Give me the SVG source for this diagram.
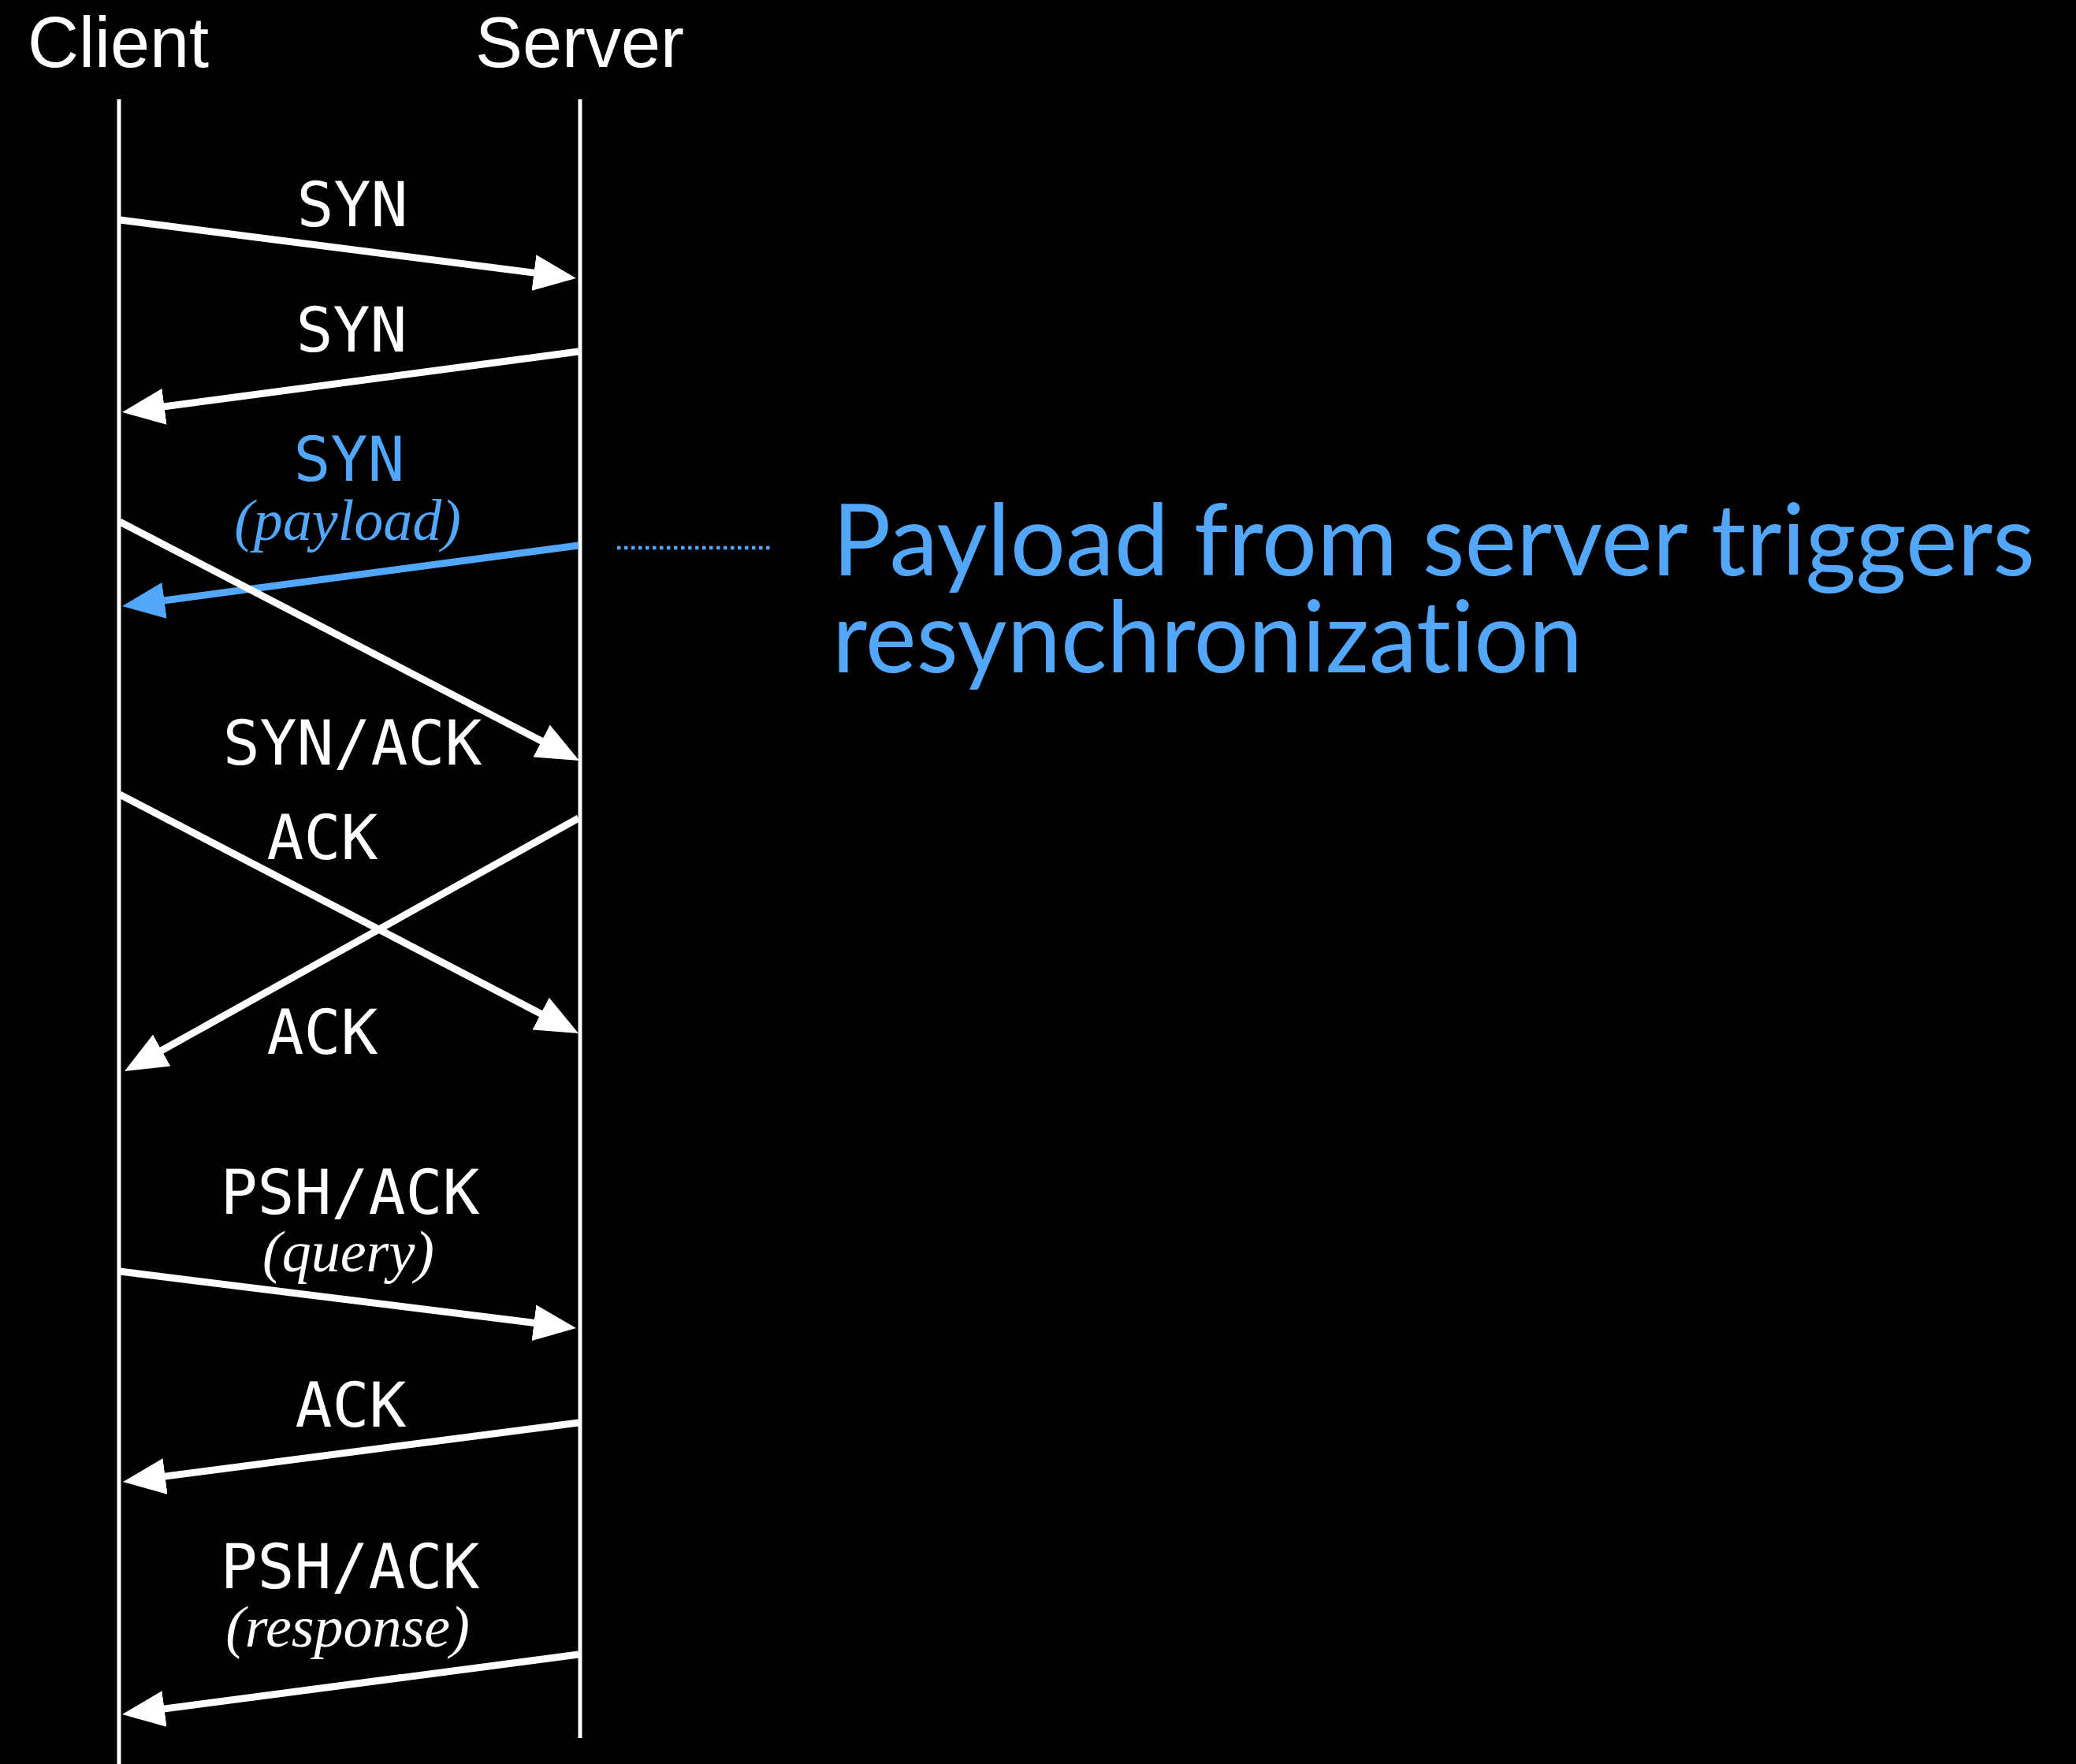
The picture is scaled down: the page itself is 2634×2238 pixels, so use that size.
<svg xmlns="http://www.w3.org/2000/svg" width="2634" height="2238" viewBox="0 0 2634 2238">
<defs>
<style>
.life{stroke:#fff;stroke-width:5;fill:none}
.msg{stroke:#fff;stroke-width:9;fill:none;marker-end:url(#ah)}
.msgb{stroke:#53A7FA;stroke-width:9;fill:none;marker-end:url(#ahb)}
.head{font-family:"Liberation Sans",Arial,sans-serif;font-size:90px;fill:#fff}
.lbl{font-family:"DejaVu Sans Mono","Liberation Mono",monospace;font-size:78px;fill:#fff;text-anchor:middle}
.sub{font-family:"Liberation Serif","Times New Roman",serif;font-style:italic;font-size:74px;fill:#fff;text-anchor:middle}
.blue{fill:#53A7FA}
.note{font-family:Lato,"Open Sans",sans-serif;font-size:127px;fill:#53A7FA;font-variant-ligatures:none;font-feature-settings:"liga" 0,"clig" 0}
</style>
<marker id="ah" markerUnits="userSpaceOnUse" viewBox="0 0 54 46" markerWidth="54" markerHeight="46" refX="30" refY="23" orient="auto">
<path d="M0,0 L54,23 L0,46 z" fill="#fff"/>
</marker>
<marker id="ahb" markerUnits="userSpaceOnUse" viewBox="0 0 54 46" markerWidth="54" markerHeight="46" refX="30" refY="23" orient="auto">
<path d="M0,0 L54,23 L0,46 z" fill="#53A7FA"/>
</marker>
</defs>
<rect x="0" y="0" width="2634" height="2238" fill="#000"/>
<g id="client">
<text class="head" x="35" y="85">Client</text>
<line class="life" x1="151" y1="126" x2="151" y2="2238"/>
</g>
<g id="server">
<text class="head" x="603" y="85">Server</text>
<line class="life" x1="736" y1="126" x2="736" y2="2205"/>
</g>
<g id="connectors">
<line class="msg" x1="152" y1="279" x2="707.2" y2="349.9"/>
<line class="msg" x1="734" y1="446" x2="178.8" y2="519.8"/>
<line class="msgb" x1="734" y1="692" x2="178.8" y2="765.8"/>
<line class="msg" x1="152" y1="662" x2="713.7" y2="953.9"/>
<line class="msg" x1="152" y1="1008" x2="712.7" y2="1299.9"/>
<line class="msg" x1="734" y1="1038" x2="179" y2="1347.3"/>
<line class="msg" x1="152" y1="1613" x2="707.2" y2="1682"/>
<line class="msg" x1="734" y1="1805" x2="179.8" y2="1876.9"/>
<line class="msg" x1="734" y1="2099" x2="178.8" y2="2171.9"/>
<line x1="783" y1="695" x2="980" y2="695" stroke="#53A7FA" stroke-width="4.5" stroke-dasharray="4.5 4.5"/>
</g>
<g id="labels">
<text class="lbl" x="447" y="287">SYN</text>
<text class="lbl" x="446" y="446">SYN</text>
<text class="lbl blue" x="443" y="610">SYN</text>
<text class="sub blue" x="441" y="685">(payload)</text>
<text class="lbl" x="447" y="970">SYN/ACK</text>
<text class="lbl" x="409" y="1090">ACK</text>
<text class="lbl" x="409" y="1337">ACK</text>
<text class="lbl" x="444" y="1540">PSH/ACK</text>
<text class="sub" x="442" y="1613">(query)</text>
<text class="lbl" x="445" y="1810">ACK</text>
<text class="lbl" x="444" y="2015">PSH/ACK</text>
<text class="sub" x="441" y="2089">(response)</text>
</g>
<g id="note">
<text class="note" x="1056" y="730" textLength="1526" lengthAdjust="spacingAndGlyphs">Payload from server triggers</text>
<text class="note" x="1056" y="853" textLength="952" lengthAdjust="spacingAndGlyphs">resynchronization</text>
</g>
</svg>
